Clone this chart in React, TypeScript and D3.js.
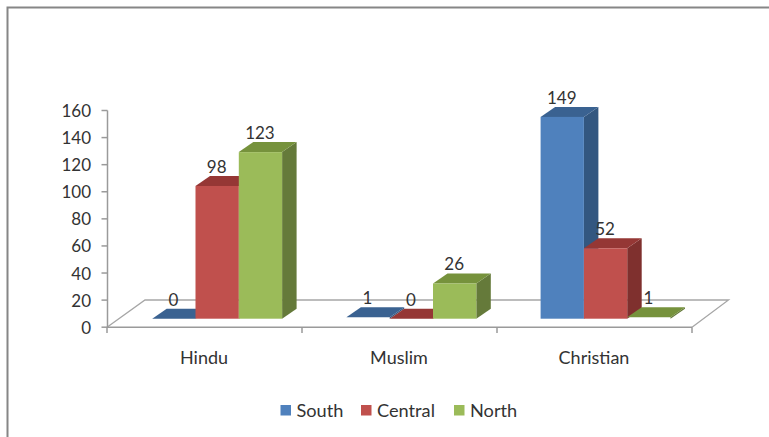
import React from "react";
import * as d3 from "d3";

const categories = ["Hindu", "Muslim", "Christian"];
const seriesNames = ["South", "Central", "North"];
const south = [0, 1, 149];
const central = [98, 0, 52];
const north = [123, 26, 1];
const yTicks = [0, 20, 40, 60, 80, 100, 120, 140, 160];
const seriesValues = [south, central, north];
const frontColors = ["#4F81BD", "#C0504D", "#9BBB59"];
const topColors = ["#3A6291", "#953735", "#76923C"];
const sideColors = ["#335780", "#7F302E", "#657A3A"];

const FONT = "Lato, sans-serif";
const depthX = 14.5;
const depthY = 10;
const barBase = 318.7;
const barWidth = 43.3;

export default function App() {
  const axisY = d3.scaleLinear().domain([0, 160]).range([327.2, 110.5]);
  const barH = (v: number) => axisY(0) - axisY(v);
  const band = d3.scaleBand<string>().domain(categories).range([107, 692]);
  const groupScale = d3.scalePoint<string>().domain(categories).range([152.2, 540.6]);
  const groupX = (c: string) => groupScale(c)!;
  const series = d3.scaleBand<string>().domain(seriesNames).range([0, barWidth * 3]);
  const line = d3.line();
  const poly = (pts: [number, number][]) => line(pts)! + "Z";
  const floorBack = 300;

  return (
    <svg width={769} height={437} style={{ position: "absolute", left: 0, top: 0, background: "#fff" }}>
      <path d="M7.5 437V7.5H769" fill="none" stroke="#868686" strokeWidth={2} />

      {/* floor */}
      <path d={`M107 327.2L145 ${floorBack}H728.5L692 327.2`} fill="none" stroke="#A6A6A6" strokeWidth={1.3} />

      {/* axes */}
      <path d="M107.5 110.5V327.2H692" fill="none" stroke="#9A9A9A" strokeWidth={1.5} />
      {yTicks.map((t) => (
        <g key={t}>
          <line x1={101.5} x2={107.5} y1={axisY(t)} y2={axisY(t)} stroke="#9A9A9A" strokeWidth={1.5} />
          <text x={91} y={axisY(t) + 6.5} textAnchor="end" fontFamily={FONT} fontSize={17} fill="#333">{t}</text>
        </g>
      ))}
      {[0, 1, 2, 3].map((i) => {
        const x = 107 + band.bandwidth() * i;
        return <line key={i} x1={x} x2={x} y1={327.2} y2={333} stroke="#9A9A9A" strokeWidth={1.5} />;
      })}
      {categories.map((c) => (
        <text key={c} x={band(c)! + band.bandwidth() / 2 - 0.5} y={364} textAnchor="middle" fontFamily={FONT} fontSize={18} fill="#333">{c}</text>
      ))}

      {/* bars */}
      {categories.map((c, ci) => (
        <g key={c}>
          {seriesNames.map((s, si) => {
            const v = seriesValues[si][ci];
            const x0 = groupX(c) + series(s)!;
            const x1 = x0 + barWidth;
            const top = barBase - barH(v);
            return (
              <g key={s}>
                <path d={poly([[x1, barBase], [x1 + depthX, barBase - depthY], [x1 + depthX, top - depthY], [x1, top]])} fill={sideColors[si]} />
                <path d={poly([[x0, top], [x0 + depthX, top - depthY], [x1 + depthX, top - depthY], [x1, top]])} fill={topColors[si]} />
                {v > 0 && barH(v) > 2 && <rect x={x0} y={top} width={barWidth} height={barH(v)} fill={frontColors[si]} />}
              </g>
            );
          })}
        </g>
      ))}

      {/* value labels */}
      {categories.map((c) =>
        seriesNames.map((s, si) => {
          const v = seriesValues[si][categories.indexOf(c)];
          const x = groupX(c) + series(s)! + barWidth / 2;
          return (
            <text key={c + s} x={x - 0.5} y={barBase - barH(v) - 13} textAnchor="middle" fontFamily={FONT} fontSize={17} fill="#333">{v}</text>
          );
        })
      )}

      {/* legend */}
      {seriesNames.map((s, i) => {
        const sq = [280.5, 361, 454][i];
        return (
          <g key={s}>
            <rect x={sq} y={405} width={10.5} height={10.5} fill={frontColors[i]} />
            <text x={sq + 16} y={416.5} fontFamily={FONT} fontSize={18.2} fill="#333">{s}</text>
          </g>
        );
      })}
    </svg>
  );
}
